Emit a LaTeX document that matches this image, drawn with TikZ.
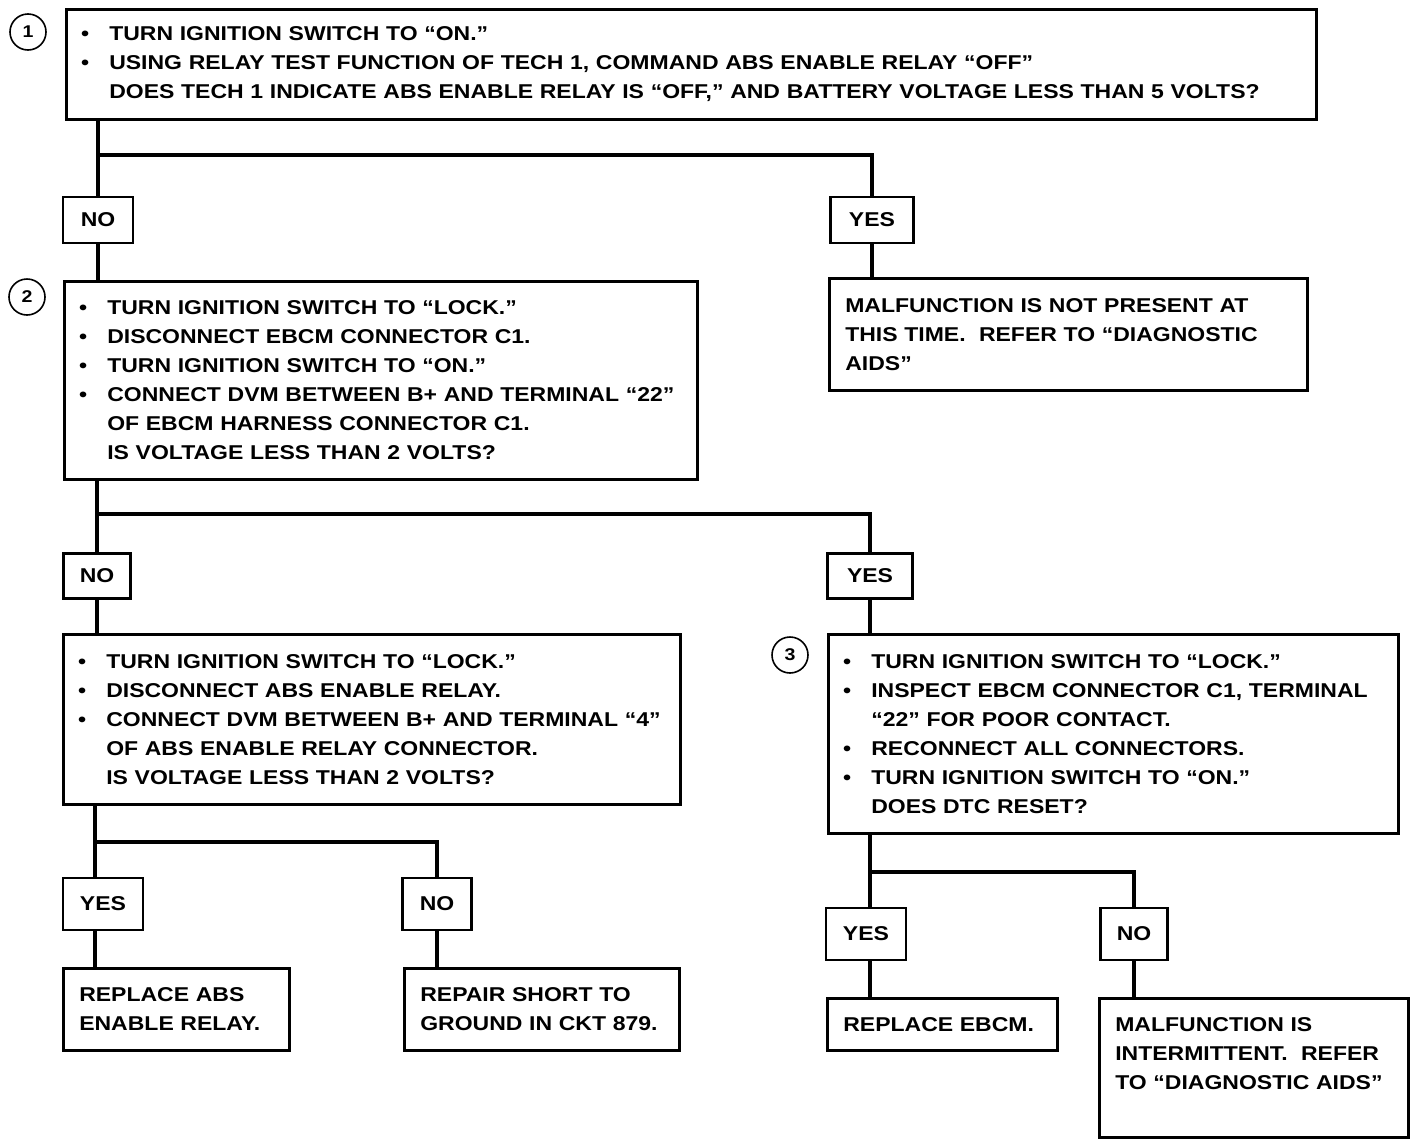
\documentclass[tikz,border=0pt]{standalone}
\usepackage{fontspec}
\setmainfont[FakeStretch=1.15]{Liberation Sans}
\usetikzlibrary{positioning}
\tikzset{>=latex}
\def\boxwidth{1.3pt}
\def\connwidth{2.3pt}
\newcommand{\bul}{\makebox[13.5pt][l]{\hspace*{-0.6pt}\textbullet}}
\newcommand{\ind}{\hspace*{13.5pt}}
\tikzset{
  stepbox/.style={draw, line width=\boxwidth, anchor=north west, align=left, inner xsep=8pt, inner ysep=0pt},
  ansbox/.style={draw, line width=\boxwidth, inner sep=0pt},
  numcirc/.style={circle, draw, line width=0.8pt, minimum size=18pt, inner sep=0pt, font=\fontsize{8.5}{10}\selectfont\bfseries},
  conn/.style={line width=\connwidth}
}

\begin{document}
\begin{tikzpicture}[x=0.5pt, y=-0.5pt, font=\fontsize{10}{14.5}\selectfont\bfseries]
    \useasboundingbox (0,0) rectangle (1424,1146);
    % question boxes
    \node[stepbox, text width=609pt, minimum height=55pt] at (65,8) (q1) {%
        \bul TURN IGNITION SWITCH TO ``ON.''\\
        \bul USING RELAY TEST FUNCTION OF TECH 1, COMMAND ABS ENABLE RELAY ``OFF''\\
        \ind DOES TECH 1 INDICATE ABS ENABLE RELAY IS ``OFF,'' AND BATTERY VOLTAGE LESS THAN 5 VOLTS?};
    \node[stepbox, text width=300.5pt, minimum height=99pt] at (63,280) (q2) {%
        \bul TURN IGNITION SWITCH TO ``LOCK.''\\
        \bul DISCONNECT EBCM CONNECTOR C1.\\
        \bul TURN IGNITION SWITCH TO ``ON.''\\
        \bul CONNECT DVM BETWEEN B+ AND TERMINAL ``22''\\
        \ind OF EBCM HARNESS CONNECTOR C1.\\
        \ind IS VOLTAGE LESS THAN 2 VOLTS?};
    \node[stepbox, text width=292.5pt, minimum height=85pt] at (62,633) (q4) {%
        \bul TURN IGNITION SWITCH TO ``LOCK.''\\
        \bul DISCONNECT ABS ENABLE RELAY.\\
        \bul CONNECT DVM BETWEEN B+ AND TERMINAL ``4''\\
        \ind OF ABS ENABLE RELAY CONNECTOR.\\
        \ind IS VOLTAGE LESS THAN 2 VOLTS?};
    \node[stepbox, text width=269pt, minimum height=99.5pt] at (827,633) (q3) {%
        \bul TURN IGNITION SWITCH TO ``LOCK.''\\
        \bul INSPECT EBCM CONNECTOR C1, TERMINAL\\
        \ind ``22'' FOR POOR CONTACT.\\
        \bul RECONNECT ALL CONNECTORS.\\
        \bul TURN IGNITION SWITCH TO ``ON.''\\
        \ind DOES DTC RESET?};
    % step numbers
    \node[numcirc] at (28,32) (c1) {1};
    \node[numcirc] at (27,297) (c2) {2};
    \node[numcirc] at (790,655) (c3) {3};
    % result boxes
    \node[stepbox, text width=223pt, minimum height=56pt] at (828,277) (ans1) {%
        MALFUNCTION IS NOT PRESENT AT\\
        THIS TIME.~ REFER TO ``DIAGNOSTIC\\
        AIDS''};
    \node[stepbox, text width=97pt, minimum height=41pt] at (62,967) (fix1) {%
        REPLACE ABS\\
        ENABLE RELAY.};
    \node[stepbox, text width=121.5pt, minimum height=41pt] at (403,967) (fix2) {%
        REPAIR SHORT TO\\
        GROUND IN CKT 879.};
    \node[stepbox, text width=99pt, minimum height=26pt] at (826,997) (fix3) {REPLACE EBCM.};
    \node[stepbox, text width=138.5pt, minimum height=69.5pt] at (1098,997) (ans2) {%
        MALFUNCTION IS\\
        INTERMITTENT.~ REFER\\
        TO ``DIAGNOSTIC AIDS''\\
        \mbox{}};
    % yes / no labels
    \node[ansbox, minimum width=35pt, minimum height=23pt] at (98,220) (no1) {NO};
    \node[ansbox, minimum width=41.5pt, minimum height=23pt] at (872,220) (yes1) {YES};
    \node[ansbox, minimum width=33.5pt, minimum height=22.5pt] at (97,576) (no2) {NO};
    \node[ansbox, minimum width=42.5pt, minimum height=22.5pt] at (870,576) (yes2) {YES};
    \node[ansbox, minimum width=40pt, minimum height=26pt] at (103,904) (yes3) {YES};
    \node[ansbox, minimum width=34.5pt, minimum height=26pt] at (437,904) (no3) {NO};
    \node[ansbox, minimum width=40pt, minimum height=26pt] at (866,934) (yes4) {YES};
    \node[ansbox, minimum width=33.5pt, minimum height=26pt] at (1134,934) (no4) {NO};
    % connectors
    \coordinate (s1) at (98,155);
    \coordinate (s2) at (97,514);
    \coordinate (s3) at (95,842);
    \coordinate (s4) at (870,872);
    \draw[conn] (q1.south -| no1) -- (no1.north);
    \draw[conn] (s1) -| (yes1.north);
    \draw[conn] (no1.south) -- (q2.north -| no1);
    \draw[conn] (yes1.south) -- (ans1.north -| yes1);
    \draw[conn] (q2.south -| no2) -- (no2.north);
    \draw[conn] (s2) -| (yes2.north);
    \draw[conn] (no2.south) -- (q4.north -| no2);
    \draw[conn] (yes2.south) -- (q3.north -| yes2);
    \draw[conn] (q4.south -| s3) -- (yes3.north -| s3);
    \draw[conn] (s3) -| (no3.north);
    \draw[conn] (yes3.south -| s3) -- (fix1.north -| s3);
    \draw[conn] (no3.south) -- (fix2.north -| no3);
    \draw[conn] (q3.south -| s4) -- (yes4.north -| s4);
    \draw[conn] (s4) -| (no4.north);
    \draw[conn] (yes4.south -| s4) -- (fix3.north -| s4);
    \draw[conn] (no4.south) -- (ans2.north -| no4);
\end{tikzpicture}
\end{document}
